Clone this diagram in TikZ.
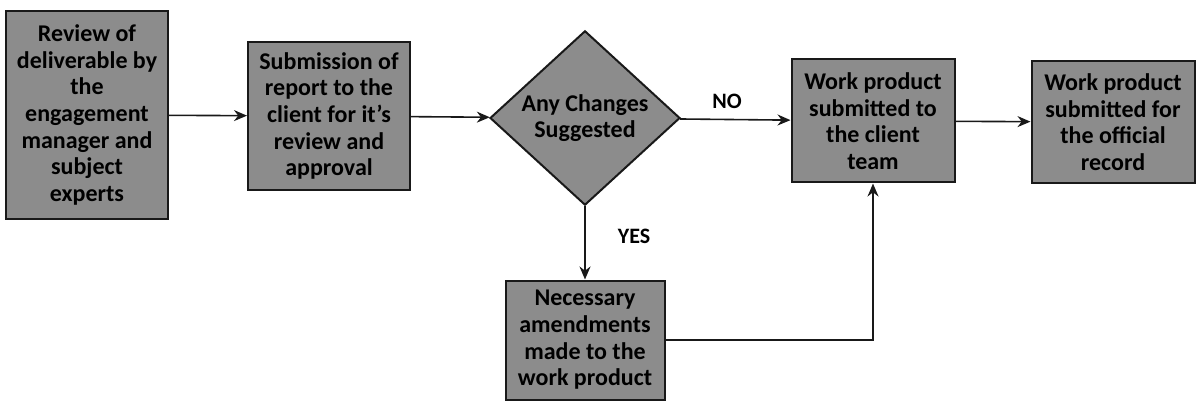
\documentclass[tikz,border=0pt]{standalone}
\usepackage{fontspec}
\setmainfont{Carlito}
\usetikzlibrary{
  arrows.meta,
  shapes.geometric,
  chains,
  positioning,
  scopes
}

\begin{document}
\begin{tikzpicture}[
      x=0.5pt,y=-0.5pt,
      process/.style={
         rectangle,
         line width=1pt,
         draw=black!90,
         fill=black!45,
         inner sep=0pt,
         align=center,
         font=\bfseries\fontsize{12}{13.3}\selectfont
      },
      decision/.style={
         diamond,
         line width=1pt,
         draw=black!90,
         fill=black!45,
         inner sep=0pt,
         align=center,
         font=\bfseries\fontsize{12}{13.3}\selectfont
      },
      answer/.style={font=\bfseries\fontsize{11}{12}\selectfont},
      >={Stealth[length=6.5pt,width=5.5pt]},line width=0.8pt,draw=black!90,
      tip/.style={->,shorten >=0.007pt},
      hv path/.style={to path={-| (\tikztotarget)}},
    ]
    \useasboundingbox (0,0) rectangle (1198,406);
    \node (review) [process, minimum width=81pt, minimum height=104pt] at (87,115)
       {Review of\\deliverable by\\the\\engagement\\manager and\\subject\\experts};
    \node (submit) [process, minimum width=81pt, minimum height=74pt] at (329,116)
       {Submission of\\report to the\\client for it's\\review and\\approval};
    \node (changes) [decision, minimum width=95pt, minimum height=78pt] at (585,118)
       {Any Changes\\Suggested};
    \node (amend) [process, minimum width=79.5pt, minimum height=59.5pt] at (585,340)
       {Necessary\\amendments\\made to the\\work product};
    \node (client) [process, minimum width=81.5pt, minimum height=61.5pt] at (873,121)
       {Work product\\submitted to\\the client\\team};
    \node (record) [process, minimum width=81.5pt, minimum height=61pt] at (1113,122)
       {Work product\\submitted for\\the official\\record};
    \node (no) [answer] at (727,101) {NO};
    \node (yes) [answer] at (634,236) {YES};
  { [start chain]
       \chainin (review);
       \chainin (submit)    [join=by tip];
       \chainin (changes)   [join=by tip];
       \chainin (client)    [join=by tip];
       \chainin (record)    [join=by tip];
  }
  { [start chain]
       \chainin (changes);
       \chainin (amend)     [join=by tip];
  }
  { [start chain]
       \chainin (amend);
       \chainin (client)    [join=by {hv path,tip}];
  }
\end{tikzpicture}
\end{document}
